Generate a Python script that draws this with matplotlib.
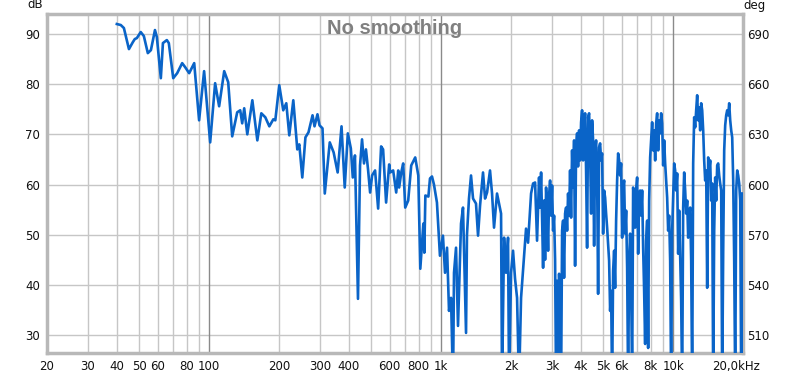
import matplotlib
matplotlib.use("Agg")
import matplotlib.pyplot as plt
import matplotlib.transforms as mtransforms
import matplotlib.ticker as mticker

# ---- data ----
# low / mid band: (frequency Hz, level dB)
freq_low = [
    40.0, 41.6, 42.9, 45.1, 46.9, 47.8, 48.8, 50.7, 52.3, 54.4, 56.1, 58.4, 59.5, 61.9, 63.2,
    65.7, 67.0, 70.0, 72.8, 76.5, 78.8, 82.0, 86.2, 90.5, 95.1, 101, 106.1, 110.4, 116.1, 120.8,
    125.7, 132.1, 136.1, 138.8, 141.6, 146, 153.5, 161.3, 167.8, 174.6, 181.7, 189, 192.8, 200.5,
    208.6, 215, 221.5, 230.5, 239.8, 244.6, 252, 260, 268, 279, 284.5, 293, 299, 308, 315, 331,
    344, 358, 372, 384, 396, 408, 416, 425, 438, 447, 456, 465, 474, 484, 494, 504, 519, 535,
    551, 562, 579, 597, 603, 621, 640, 653, 659, 673, 686, 700, 721, 743, 773, 797, 813, 838,
    846, 855, 881,
]
db_low = [
    92.0, 91.8, 91.2, 87.0, 88.4, 89.0, 89.2, 90.4, 89.6, 86.2, 86.8, 90.8, 89.4, 81.2, 88.2,
    88.8, 88.2, 81.2, 82.2, 84.2, 83.4, 82.2, 84.2, 72.8, 82.6, 68.4, 80.2, 75.6, 82.6, 80.4,
    69.6, 74.4, 74.8, 72.2, 75.2, 70.0, 76.8, 68.8, 74.2, 73.4, 71.6, 73.0, 72.8, 79.8,
    74.8, 76.2, 69.8, 76.8, 67.0, 68.0, 61.4, 69.4, 70.4, 73.8, 71.6, 74.0, 71.8, 71.2, 58.2, 68.4,
    66.4, 62.4, 71.6, 59.4, 70.2, 67.2, 61.4, 65.8, 37.2, 63.8, 69.0, 64.2, 67.0, 63.0, 58.4, 61.8,
    62.8, 55.2, 67.6, 67.0, 56.4, 64.0, 62.4, 62.8, 58.4, 62.8, 59.4, 62.4, 64.2, 55.4, 56.8, 63.8,
    65.4, 61.8, 43.2, 52.2, 46.4, 57.8, 57.6,
]
freq_mid = [
    895, 913, 931, 959, 988, 1018, 1039, 1060, 1081, 1103, 1125, 1136, 1159, 1182, 1218, 1242,
    1280, 1292, 1318, 1345, 1372, 1413, 1442, 1471, 1515, 1546, 1577, 1624, 1657, 1690, 1741,
    1776, 1812, 1830, 1867, 1904, 1942, 1962, 2001, 2041, 2082, 2124, 2166, 2210, 2254, 2322,
    2369, 2441, 2490, 2540, 2590, 2642,
]
db_mid = [
    61.2, 61.6, 60.0, 56.4, 45.8, 49.8, 42.4, 47.4, 34.8, 37.4, 20.0, 42.4, 47.4, 31.8, 52.2, 55.4,
    30.4, 50.0, 57.2, 61.8, 57.2, 56.2, 49.8, 55.8, 62.4, 57.2, 58.4, 62.8, 58.2, 51.4, 58.2,
    56.2, 54.2, 20.0, 49.4, 42.4, 49.4, 20.0, 42.4, 46.8, 41.2, 37.4, 20.0, 37.4, 42.8, 51.2,
    48.4, 58.2, 60.2, 60.4, 48.8, 61.4,
]
freq_high = [
    2669, 2696, 2722, 2750, 2777, 2805, 2833, 2861, 2890, 2918, 2948,
    2977, 3007, 3037, 3067, 3098, 3128, 3160, 3191, 3223, 3255,
    3288, 3321, 3354, 3387, 3421, 3455, 3490, 3524, 3560, 3595,
    3631, 3667, 3704, 3741, 3778, 3816, 3854, 3892, 3931, 3970,
    4010, 4050, 4091, 4131, 4173, 4214, 4256, 4299, 4342, 4385,
    4429, 4473, 4518, 4563, 4608, 4654, 4701, 4748, 4795, 4843,
    4891, 4940, 4989, 5039, 5090, 5140, 5192, 5243, 5296, 5349,
    5402, 5456, 5511, 5566, 5621, 5677, 5734, 5791, 5849, 5907,
    5966, 6026, 6086, 6147, 6208, 6270, 6333, 6396, 6460, 6524,
    6589, 6655, 6721, 6789, 6856, 6925, 6994, 7064, 7134, 7205,
    7277, 7350, 7423, 7497, 7572, 7648, 7724, 7801, 7879, 7958,
    8037, 8117, 8198, 8280, 8363, 8446, 8531, 8616, 8702, 8789,
    8876, 8965, 9054, 9145, 9236, 9328, 9421, 9515, 9610, 9706,
    9803, 9901, 10000, 10100, 10201, 10302, 10405, 10509, 10614, 10720,
    10827, 10935, 11044, 11154, 11266, 11378, 11492, 11606, 11722, 11839,
    11957, 12076, 12197, 12319, 12442, 12566, 12691, 12818, 12945, 13075,
    13206, 13338, 13471, 13605, 13741, 13878, 14016, 14156, 14297, 14440,
    14585, 14730, 14877, 15026, 15176, 15327, 15480, 15635, 15791, 15948,
    16108, 16269, 16431, 16595, 16760, 16928, 17097, 17267, 17440, 17614,
    17790, 17967, 18147, 18328, 18511, 18695, 18882, 19070, 19261, 19453,
    19647, 19843,
]
db_high = [
    55.4, 62.4, 53.8, 43.4, 56.8, 45.0, 59.4, 54.8, 46.8, 57.8, 60.8,
    53.8, 59.8, 50.8, 53.8, 45.0, 20.0, 40.8, 20.0, 42.2, 34.2,
    20.0, 50.8, 52.8, 41.4, 54.2, 55.4, 50.8, 58.2, 53.8, 62.8,
    53.4, 66.8, 59.4, 68.8, 43.8, 67.8, 70.2, 63.6, 70.8, 64.8,
    72.4, 74.8, 64.8, 71.2, 74.2, 62.8, 47.4, 73.4, 74.2, 66.8,
    54.2, 72.8, 68.8, 47.8, 66.8, 68.8, 61.8, 38.2, 67.4, 68.2,
    64.8, 66.2, 50.2, 58.8, 57.4, 54.2, 51.4, 48.2, 44.8, 34.8,
    38.8, 20.0, 42.8, 46.8, 39.4, 52.8, 60.8, 66.2, 64.8, 61.8,
    64.2, 49.4, 59.4, 60.8, 50.2, 54.8, 43.4, 20.0, 44.8, 50.2,
    40.8, 20.0, 59.4, 56.8, 51.4, 58.8, 61.4, 46.2, 57.8, 58.8,
    53.8, 58.8, 47.4, 38.8, 28.2, 48.8, 52.8, 27.4, 56.8, 65.4,
    68.8, 72.4, 66.8, 70.8, 64.8, 72.2, 74.2, 66.8, 72.8, 70.2,
    74.2, 72.2, 63.8, 68.8, 64.2, 60.8, 57.4, 50.8, 53.8, 44.8,
    20.0, 50.8, 57.4, 64.2, 62.8, 58.8, 62.2, 46.2, 54.8, 45.4,
    36.8, 20.0, 55.4, 62.4, 58.8, 54.2, 56.8, 49.4, 53.8, 55.4,
    44.8, 20.0, 64.2, 73.4, 71.4, 74.8, 77.8, 72.8, 75.4, 70.8,
    76.2, 74.8, 70.8, 64.8, 60.8, 62.8, 39.4, 65.4, 62.8, 64.8,
    56.8, 60.2, 20.0, 50.8, 61.4, 56.8, 63.8, 64.2, 61.8, 60.2,
    58.8, 20.0, 46.8, 66.8, 71.8, 73.8, 74.8, 73.8, 76.2, 72.8,
    70.8, 69.4, 60.8, 44.8, 20.0, 58.8, 62.8, 61.8, 60.2, 56.8,
    20.0, 58.2,
]

x_tick_vals = [20, 30, 40, 50, 60, 80, 100, 200, 300, 400, 600, 800, 1000, 2000, 3000, 4000,
               5000, 6000, 8000, 10000, 20000]
x_tick_labels = ["20", "30", "40", "50", "60", "80", "100", "200", "300", "400", "600", "800",
                 "1k", "2k", "3k", "4k", "5k", "6k", "8k", "10k", "20,0kHz"]
x_grid_vals = [20, 30, 40, 50, 60, 70, 80, 90, 100, 200, 300, 400, 500, 600, 700, 800, 900,
               1000, 2000, 3000, 4000, 5000, 6000, 7000, 8000, 9000, 10000, 20000]
x_decades = [100, 1000, 10000]
db_ticks = [30, 40, 50, 60, 70, 80, 90]
deg_ticks = [510, 540, 570, 600, 630, 660, 690]
db_lim = (26.4, 94.0)
deg_lim = (499.2, 702.0)
title_text = "No smoothing"

freq_hz = freq_low + freq_mid + freq_high
spl_db = db_low + db_mid + db_high

# ---- figure ----
fig = plt.figure(figsize=(8.0, 3.74), dpi=100)
ax = fig.add_axes([47 / 800, 21 / 374, 696 / 800, 339 / 374])
ax.set_xscale("log")
ax.set_xlim(20, 20000)
ax.set_ylim(*db_lim)

ax.set_xticks(x_tick_vals)
ax.set_xticklabels(x_tick_labels)
ax.xaxis.set_minor_locator(mticker.NullLocator())
ax.set_yticks(db_ticks)
ax.tick_params(axis="both", which="both", length=0, labelsize=8.5, colors="#111111")
ax.tick_params(axis="x", pad=5)
ax.tick_params(axis="y", pad=5)

ax.grid(True, which="major", axis="y", color="#c6c6c6", lw=1.0)
for g in x_grid_vals:
    ax.axvline(g, color="#8a8a8a" if g in x_decades else "#c6c6c6", lw=1.0, zorder=1)
ax.set_axisbelow(True)

ax.plot(freq_hz, spl_db, color="#0a64c8", lw=1.9, solid_joinstyle="round", zorder=3)

for sp in ax.spines.values():
    sp.set_color("#b8b8b8")
    sp.set_linewidth(2.5)

# shift last label leftwards like reference
lbls = ax.get_xticklabels()
off = mtransforms.ScaledTranslation(-7 / 100, 0, fig.dpi_scale_trans)
lbls[-1].set_transform(lbls[-1].get_transform() + off)

ax2 = ax.twinx()
ax2.set_ylim(*deg_lim)
ax2.set_yticks(deg_ticks)
ax2.tick_params(axis="y", length=0, labelsize=8.5, pad=3, colors="#111111")
for sp in ax2.spines.values():
    sp.set_visible(False)

ax.text(0.5, 0.985, title_text, transform=ax.transAxes, ha="center", va="top",
        fontsize=14.5, fontweight="bold", color="#808080", family="Liberation Sans", zorder=5)
fig.text(35 / 800, 1 - 5 / 374, "dB", ha="center", va="center", fontsize=8.5, color="#111111")
fig.text(755 / 800, 1 - 6 / 374, "deg", ha="center", va="center", fontsize=8.5, color="#111111")

fig.savefig("out.png", dpi=100, facecolor="white")
